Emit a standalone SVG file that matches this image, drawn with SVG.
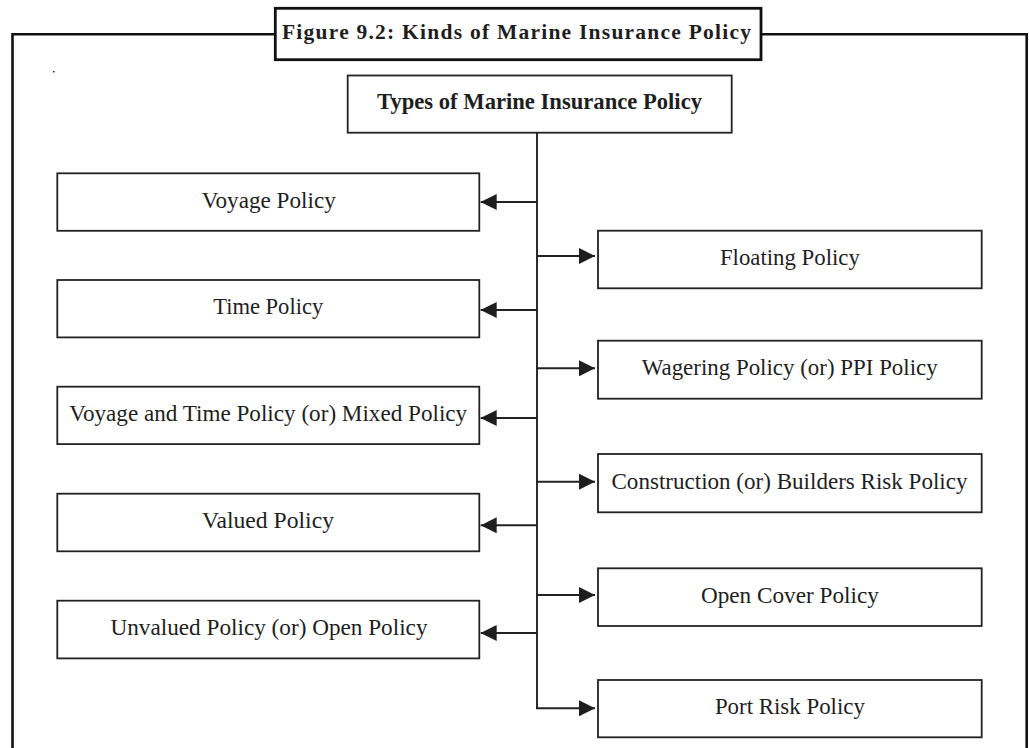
<svg xmlns="http://www.w3.org/2000/svg" width="1029" height="748" viewBox="0 0 1029 748">
  <defs>
    <marker id="arr" markerUnits="userSpaceOnUse" markerWidth="16" markerHeight="16" refX="16" refY="8" orient="auto">
      <path d="M0,0 L16,8 L0,16 z" fill="#1e1e1e"/>
    </marker>
    <style>
      .box { fill: #fff; stroke: #222; stroke-width: 1.8; }
      .lbl { font-family: "Liberation Serif", "Times New Roman", serif; font-size: 22.5px; fill: #1e1e1e; text-anchor: middle; }
      .bold { font-weight: bold; }
      .conn { fill: none; stroke: #222; stroke-width: 1.9; }
      .frame { fill: none; stroke: #111; stroke-width: 2.6; }
    </style>
  </defs>
  <rect width="1029" height="748" fill="#fff"/>

  <g id="frame">
    <path class="frame" d="M12.5,748 V34.3 H275.3 M761,34.3 H1026.7 V748"/>
    <rect x="53" y="71" width="1.6" height="1.4" fill="#222"/>
  </g>

  <g id="title">
    <rect x="275.3" y="8.3" width="485.7" height="51.4" fill="#fff" stroke="#111" stroke-width="2.8"/>
    <text class="lbl bold" x="282" y="39" style="text-anchor:start;font-size:21.5px" textLength="469" lengthAdjust="spacing">Figure 9.2: Kinds of Marine Insurance Policy</text>
  </g>

  <g id="connectors">
    <line class="conn" x1="537" y1="132.7" x2="537" y2="708.3"/>
    <line class="conn" x1="537" y1="202" x2="480.7" y2="202" marker-end="url(#arr)"/>
    <line class="conn" x1="537" y1="310" x2="480.7" y2="310" marker-end="url(#arr)"/>
    <line class="conn" x1="537" y1="418" x2="480.7" y2="418" marker-end="url(#arr)"/>
    <line class="conn" x1="537" y1="525.3" x2="480.7" y2="525.3" marker-end="url(#arr)"/>
    <line class="conn" x1="537" y1="633" x2="480.7" y2="633" marker-end="url(#arr)"/>
    <line class="conn" x1="536" y1="256" x2="595" y2="256" marker-end="url(#arr)"/>
    <line class="conn" x1="536" y1="368.3" x2="595" y2="368.3" marker-end="url(#arr)"/>
    <line class="conn" x1="536" y1="481.7" x2="595" y2="481.7" marker-end="url(#arr)"/>
    <line class="conn" x1="536" y1="595" x2="595" y2="595" marker-end="url(#arr)"/>
    <line class="conn" x1="536" y1="708.3" x2="595" y2="708.3" marker-end="url(#arr)"/>
  </g>

  <g id="root">
    <rect class="box" x="347.7" y="75.5" width="384" height="57.2"/>
    <text class="lbl bold" x="539.5" y="109.3" textLength="325" lengthAdjust="spacingAndGlyphs">Types of Marine Insurance Policy</text>
  </g>

  <g id="voyage">
    <rect class="box" x="57.3" y="173.3" width="422" height="57.5"/>
    <text class="lbl" x="268.8" y="207.6" textLength="134" lengthAdjust="spacingAndGlyphs">Voyage Policy</text>
  </g>
  <g id="time">
    <rect class="box" x="57.3" y="280" width="422" height="57.4"/>
    <text class="lbl" x="268.2" y="314.3" textLength="110" lengthAdjust="spacingAndGlyphs">Time Policy</text>
  </g>
  <g id="mixed">
    <rect class="box" x="57.3" y="386.7" width="422" height="57.4"/>
    <text class="lbl" x="268.2" y="421.3" textLength="398" lengthAdjust="spacingAndGlyphs">Voyage and Time Policy (or) Mixed Policy</text>
  </g>
  <g id="valued">
    <rect class="box" x="57.3" y="493.7" width="422" height="57.6"/>
    <text class="lbl" x="268" y="528.2" textLength="132" lengthAdjust="spacingAndGlyphs">Valued Policy</text>
  </g>
  <g id="unvalued">
    <rect class="box" x="57.3" y="600.7" width="422" height="57.7"/>
    <text class="lbl" x="269" y="635.2" textLength="317" lengthAdjust="spacingAndGlyphs">Unvalued Policy (or) Open Policy</text>
  </g>

  <g id="floating">
    <rect class="box" x="598" y="230.7" width="383.7" height="57.6"/>
    <text class="lbl" x="789.9" y="265" textLength="140" lengthAdjust="spacingAndGlyphs">Floating Policy</text>
  </g>
  <g id="wagering">
    <rect class="box" x="598" y="340.7" width="383.7" height="58"/>
    <text class="lbl" x="789.7" y="375.2" textLength="296" lengthAdjust="spacingAndGlyphs">Wagering Policy (or) PPI Policy</text>
  </g>
  <g id="construction">
    <rect class="box" x="598" y="454" width="383.7" height="58.3"/>
    <text class="lbl" x="789.5" y="488.6" textLength="356" lengthAdjust="spacingAndGlyphs">Construction (or) Builders Risk Policy</text>
  </g>
  <g id="opencover">
    <rect class="box" x="598" y="568.3" width="383.7" height="57.7"/>
    <text class="lbl" x="789.9" y="602.7" textLength="178" lengthAdjust="spacingAndGlyphs">Open Cover Policy</text>
  </g>
  <g id="portrisk">
    <rect class="box" x="598" y="680" width="383.7" height="57.3"/>
    <text class="lbl" x="789.9" y="714.2" textLength="150" lengthAdjust="spacingAndGlyphs">Port Risk Policy</text>
  </g>
</svg>
